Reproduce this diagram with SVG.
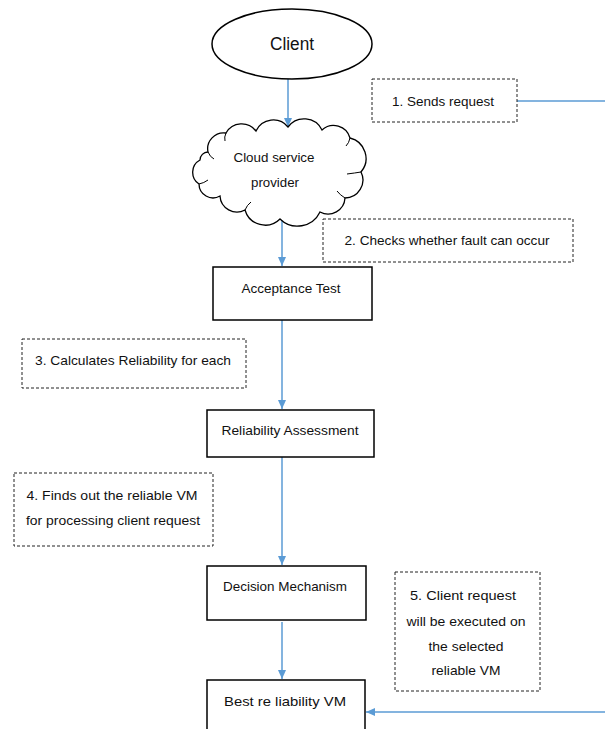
<svg xmlns="http://www.w3.org/2000/svg" width="605" height="729" viewBox="0 0 605 729">
<style>
text{font-family:"Liberation Sans",Arial,sans-serif;font-size:13.5px;fill:#111;text-anchor:middle}
.box{fill:#fff;stroke:#000;stroke-width:1.5}
.note{fill:#fff;stroke:#222;stroke-width:1;stroke-dasharray:3,2}
.con{stroke:#5B9BD5;stroke-width:1.5;fill:none}
</style>
<defs>
<marker id="ah" markerWidth="10" markerHeight="10" refX="9" refY="5" orient="auto" markerUnits="userSpaceOnUse">
<path d="M0,1 L9,5 L0,9 Z" fill="#5B9BD5"/>
</marker>
</defs>
<rect width="605" height="729" fill="#fff"/>
<g id="connectors">
<line class="con" x1="288" y1="79" x2="288" y2="127" marker-end="url(#ah)"/>
<line class="con" x1="282" y1="220" x2="282" y2="266" marker-end="url(#ah)"/>
<line class="con" x1="282" y1="320" x2="282" y2="409" marker-end="url(#ah)"/>
<line class="con" x1="282" y1="457" x2="282" y2="565" marker-end="url(#ah)"/>
<line class="con" x1="282" y1="622" x2="282" y2="679" marker-end="url(#ah)"/>
<line class="con" x1="517" y1="101" x2="605" y2="101"/>
<line class="con" x1="605" y1="712" x2="366" y2="712" marker-end="url(#ah)"/>
</g>
<g id="client">
<ellipse cx="292" cy="44" rx="80" ry="35" fill="#fff" stroke="#000" stroke-width="1.5"/>
<text x="292" y="50" style="font-size:18px" textLength="44" lengthAdjust="spacingAndGlyphs">Client</text>
</g>
<g id="note1">
<rect class="note" x="372" y="79" width="145" height="43"/>
<text x="443" y="106" textLength="102" lengthAdjust="spacingAndGlyphs">1. Sends request</text>
</g>
<g id="cloud">
<path d="M208,152 A16,16 0 0 1 226,133 A18,18 0 0 1 256,131 A19,19 0 0 1 288,127 A20,20 0 0 1 322,130 A17,17 0 0 1 350,138 A21,21 0 0 1 361,172 A18,18 0 0 1 345,198 A17,17 0 0 1 320,212 A25,25 0 0 1 280,219 A21,21 0 0 1 245,210 A17,17 0 0 1 220,196 A14,14 0 0 1 199,184 A14,14 0 0 1 200,160 A8,8 0 0 1 208,152 Z" fill="#fff" stroke="#000" stroke-width="1.3"/>
<path d="M208,152 Q210,157 214,159 M226,133 Q224,137 225,141 M350,138 Q349,143 346,146 M347,174 Q355,173 361,172 M345,198 Q340,195 337,191 M245,210 Q247,205 251,202 M199,184 Q204,183 208,180" fill="none" stroke="#000" stroke-width="1"/>
<text x="274" y="162" textLength="81" lengthAdjust="spacingAndGlyphs">Cloud service</text>
<text x="275" y="187" textLength="48" lengthAdjust="spacingAndGlyphs">provider</text>
</g>
<g id="note2">
<rect class="note" x="323" y="219" width="250" height="43"/>
<text x="447" y="245" textLength="205" lengthAdjust="spacingAndGlyphs">2. Checks whether fault can occur</text>
</g>
<g id="acceptance">
<rect class="box" x="213" y="267" width="159" height="53"/>
<text x="291" y="293" textLength="99" lengthAdjust="spacingAndGlyphs">Acceptance Test</text>
</g>
<g id="note3">
<rect class="note" x="22" y="339" width="224" height="49"/>
<text x="133" y="365" textLength="196" lengthAdjust="spacingAndGlyphs">3. Calculates Reliability for each</text>
</g>
<g id="reliability">
<rect class="box" x="207" y="410" width="167" height="47"/>
<text x="290" y="435" textLength="137" lengthAdjust="spacingAndGlyphs">Reliability Assessment</text>
</g>
<g id="note4">
<rect class="note" x="14" y="473" width="199" height="73"/>
<text x="112" y="500" textLength="171" lengthAdjust="spacingAndGlyphs">4. Finds out the reliable VM</text>
<text x="113" y="525" textLength="174" lengthAdjust="spacingAndGlyphs">for processing client request</text>
</g>
<g id="decision">
<rect class="box" x="207" y="566" width="159" height="54"/>
<text x="285" y="591" textLength="124" lengthAdjust="spacingAndGlyphs">Decision Mechanism</text>
</g>
<g id="note5">
<rect class="note" x="395" y="572" width="145" height="119"/>
<text x="463" y="600" textLength="106" lengthAdjust="spacingAndGlyphs">5. Client request</text>
<text x="466" y="626" textLength="119" lengthAdjust="spacingAndGlyphs">will be executed on</text>
<text x="466" y="651" textLength="75" lengthAdjust="spacingAndGlyphs">the selected</text>
<text x="466" y="675" textLength="69" lengthAdjust="spacingAndGlyphs">reliable VM</text>
</g>
<g id="best">
<rect class="box" x="207" y="680" width="158" height="60"/>
<text x="285" y="706" textLength="122" lengthAdjust="spacingAndGlyphs">Best re liability VM</text>
</g>
</svg>
